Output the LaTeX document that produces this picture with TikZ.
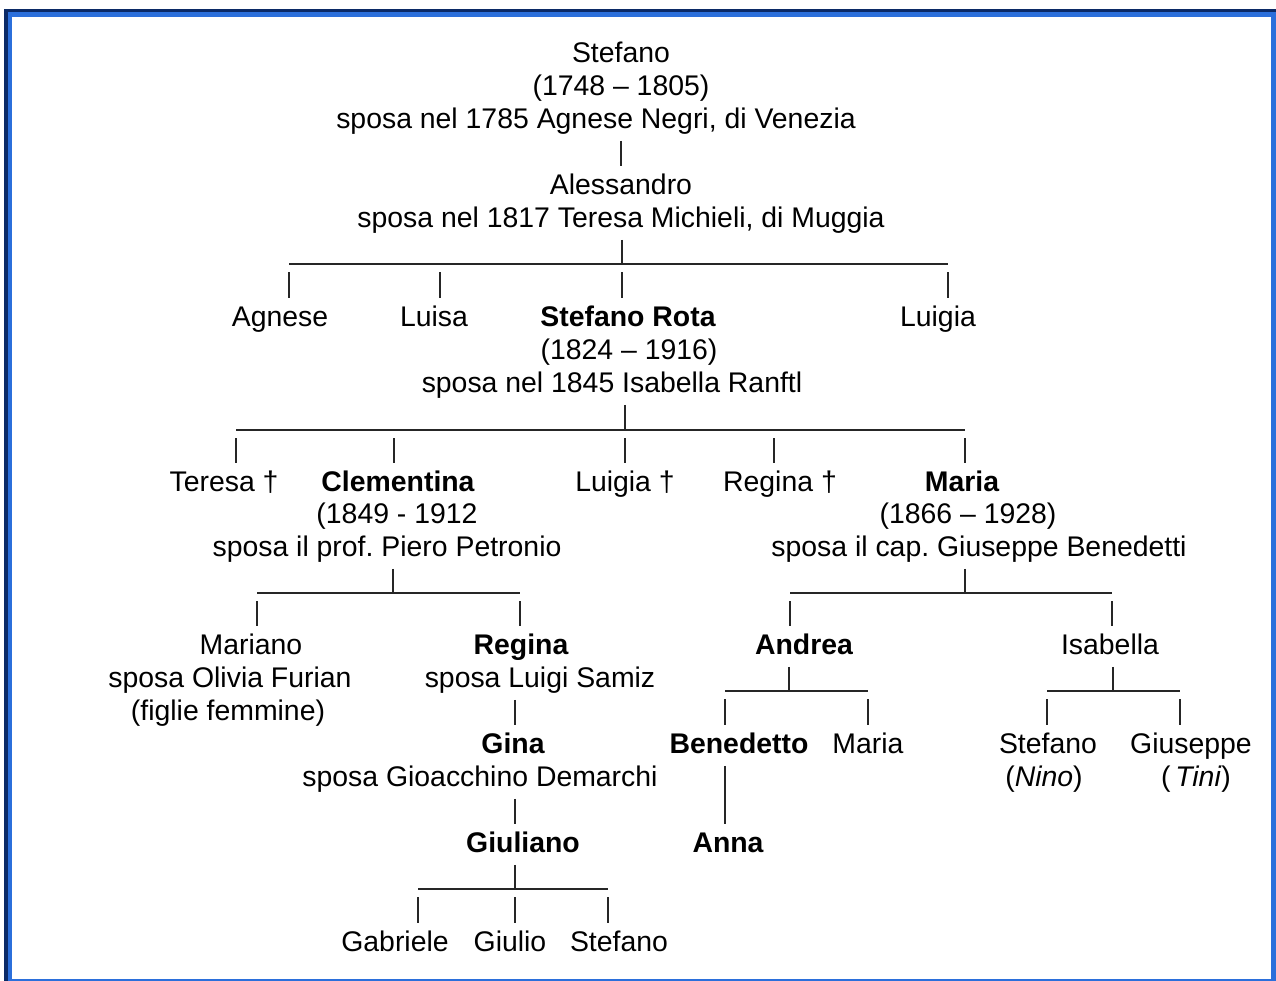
\documentclass[tikz,border=0pt]{standalone}
\usepackage{fontspec}
\setmainfont{Liberation Sans}
\frenchspacing
\definecolor{navy}{HTML}{0B2A66}
\definecolor{cornice}{HTML}{2B6FDB}
\newcommand{\fs}{\fontsize{14.2pt}{16.5pt}\selectfont}

\begin{document}
\begin{tikzpicture}[x=0.5pt, y=-0.5pt]
  \tikzstyle{pers} = [inner sep=0pt, anchor=base, text height=14pt, text depth=6.25pt, font=\fs]
  \tikzstyle{persb} = [pers, font=\fs\bfseries]
  \tikzstyle{linea} = [line width=0.9pt, black!85]
  \useasboundingbox (0,0) rectangle (1276,981);

  % Cornice
  \fill[white] (0,0) rectangle (1276,981);
  \fill[navy] (4,9) rectangle (1276,981);
  \fill[cornice] (8,12) rectangle (1276,981);
  \fill[white] (12,17) rectangle (1271,979);

  % Capostipite
  \node[pers] (stefano) at (621,62) {Stefano};
  \node[pers] (stefano-d) at (621,95) {(1748 – 1805)};
  \node[pers] (stefano-s) at (596,128) {sposa nel 1785 Agnese Negri, di Venezia};
  \node[pers] (alessandro) at (621,194) {Alessandro};
  \node[pers] (alessandro-s) at (621,227) {sposa nel 1817 Teresa Michieli, di Muggia};

  % Figli di Alessandro
  \node[pers] (agnese) at (280,326) {Agnese};
  \node[pers] (luisa) at (434,326) {Luisa};
  \node[persb] (rota) at (628,326) {Stefano Rota};
  \node[pers] (rota-d) at (629,359) {(1824 – 1916)};
  \node[pers] (rota-s) at (612,392) {sposa nel 1845 Isabella Ranftl};
  \node[pers] (luigia) at (938,326) {Luigia};

  % Figli di Stefano Rota
  \node[pers] (teresa) at (224,491) {Teresa †};
  \node[persb] (clementina) at (398,491) {Clementina};
  \node[pers] (clementina-d) at (397,523) {(1849 - 1912};
  \node[pers] (clementina-s) at (387,556) {sposa il prof. Piero Petronio};
  \node[pers] (luigia2) at (625,491) {Luigia †};
  \node[pers] (regina2) at (780,491) {Regina †};
  \node[persb] (maria) at (962,491) {Maria};
  \node[pers] (maria-d) at (968,523) {(1866 – 1928)};
  \node[pers] (maria-s) at (979,556) {sposa il cap. Giuseppe Benedetti};

  % Ramo Petronio
  \node[pers] (mariano) at (251,654) {Mariano};
  \node[pers] (mariano-s) at (230,687) {sposa Olivia Furian};
  \node[pers] (mariano-f) at (228,720) {(figlie femmine)};
  \node[persb] (regina) at (521,654) {Regina};
  \node[pers] (regina-s) at (540,687) {sposa Luigi Samiz};
  \node[persb] (gina) at (513,753) {Gina};
  \node[pers] (gina-s) at (480,786) {sposa Gioacchino Demarchi};
  \node[persb] (giuliano) at (523,852) {Giuliano};
  \node[pers] (gabriele) at (395,951) {Gabriele};
  \node[pers] (giulio) at (510,951) {Giulio};
  \node[pers] (stefano3) at (619,951) {Stefano};

  % Ramo Benedetti
  \node[persb] (andrea) at (804,654) {Andrea};
  \node[pers] (isabella) at (1110,654) {Isabella};
  \node[persb] (benedetto) at (739,753) {Benedetto};
  \node[pers] (maria2) at (868,753) {Maria};
  \node[persb] (anna) at (728,852) {Anna};
  \node[pers] (nino) at (1048,753) {Stefano};
  \node[pers] (nino-n) at (1044,786) {(\textit{Nino})};
  \node[pers] (giuseppe) at (1191,753) {Giuseppe};
  \node[pers] (tini) at (1196,786) {(\,\textit{Tini})};

  % Barre
  \coordinate (a-l) at (289,264);
  \coordinate (a-2) at (440,264);
  \coordinate (a-j) at (622,264);
  \coordinate (a-r) at (948,264);
  \coordinate (b-l) at (236,430);
  \coordinate (b-2) at (394,430);
  \coordinate (b-j) at (625,430);
  \coordinate (b-4) at (774,430);
  \coordinate (b-r) at (965,430);
  \coordinate (c-l) at (257,593);
  \coordinate (c-j) at (393,593);
  \coordinate (c-r) at (520,593);
  \coordinate (d-l) at (790,593);
  \coordinate (d-j) at (965,593);
  \coordinate (d-r) at (1112,593);
  \coordinate (e-l) at (725,691);
  \coordinate (e-j) at (789,691);
  \coordinate (e-r) at (868,691);
  \coordinate (f-l) at (1047,691);
  \coordinate (f-j) at (1113,691);
  \coordinate (f-r) at (1180,691);
  \coordinate (g-l) at (418,889);
  \coordinate (g-j) at (515,889);
  \coordinate (g-r) at (608,889);

  % Collegamenti
  \draw[linea] (alessandro.north |- stefano-s.south) -- (alessandro.north);

  \draw[linea] (a-j |- alessandro-s.south) -- (a-j);
  \draw[linea] (a-l) -- (a-r);
  \draw[linea] ([yshift=-4pt]a-l) -- (a-l |- agnese.north);
  \draw[linea] ([yshift=-4pt]a-2) -- (a-2 |- luisa.north);
  \draw[linea] ([yshift=-4pt]a-j) -- (a-j |- rota.north);
  \draw[linea] ([yshift=-4pt]a-r) -- (a-r |- luigia.north);

  \draw[linea] (b-j |- rota-s.south) -- (b-j);
  \draw[linea] (b-l) -- (b-r);
  \draw[linea] ([yshift=-4pt]b-l) -- (b-l |- teresa.north);
  \draw[linea] ([yshift=-4pt]b-2) -- (b-2 |- clementina.north);
  \draw[linea] ([yshift=-4pt]b-j) -- (b-j |- luigia2.north);
  \draw[linea] ([yshift=-4pt]b-4) -- (b-4 |- regina2.north);
  \draw[linea] ([yshift=-4pt]b-r) -- (b-r |- maria.north);

  \draw[linea] (c-j |- clementina-s.south) -- (c-j);
  \draw[linea] (c-l) -- (c-r);
  \draw[linea] ([yshift=-4pt]c-l) -- (c-l |- mariano.north);
  \draw[linea] ([yshift=-4pt]c-r) -- (c-r |- regina.north);

  \draw[linea] (d-j |- maria-s.south) -- (d-j);
  \draw[linea] (d-l) -- (d-r);
  \draw[linea] ([yshift=-4pt]d-l) -- (d-l |- andrea.north);
  \draw[linea] ([yshift=-4pt]d-r) -- (d-r |- isabella.north);

  \draw[linea] (e-j |- andrea.south) -- (e-j);
  \draw[linea] (e-l) -- (e-r);
  \draw[linea] ([yshift=-4pt]e-l) -- (e-l |- benedetto.north);
  \draw[linea] ([yshift=-4pt]e-r) -- (e-r |- maria2.north);
  \draw[linea] (e-l |- benedetto.south) -- (e-l |- anna.north);

  \draw[linea] (f-j |- isabella.south) -- (f-j);
  \draw[linea] (f-l) -- (f-r);
  \draw[linea] ([yshift=-4pt]f-l) -- (f-l |- nino.north);
  \draw[linea] ([yshift=-4pt]f-r) -- (f-r |- giuseppe.north);

  \draw[linea] (g-j |- regina-s.south) -- (g-j |- gina.north);
  \draw[linea] (g-j |- gina-s.south) -- (g-j |- giuliano.north);
  \draw[linea] (g-j |- giuliano.south) -- (g-j);
  \draw[linea] (g-l) -- (g-r);
  \draw[linea] ([yshift=-4pt]g-l) -- (g-l |- gabriele.north);
  \draw[linea] ([yshift=-4pt]g-j) -- (g-j |- giulio.north);
  \draw[linea] ([yshift=-4pt]g-r) -- (g-r |- stefano3.north);
\end{tikzpicture}
\end{document}
